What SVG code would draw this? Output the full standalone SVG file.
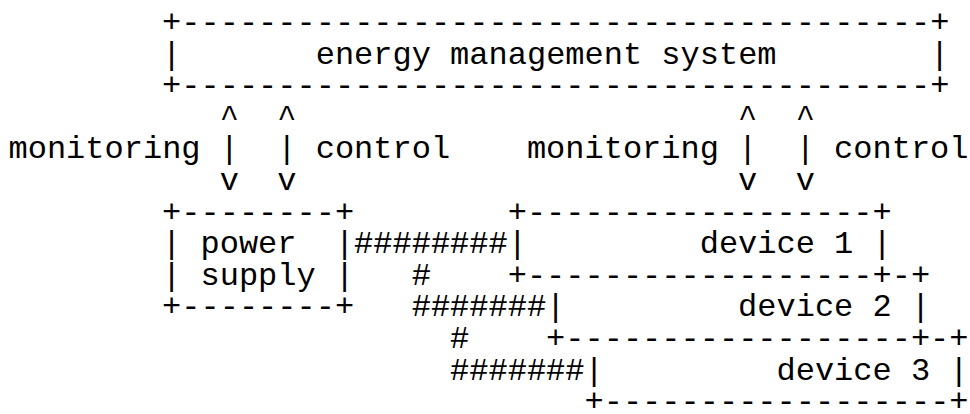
<svg xmlns="http://www.w3.org/2000/svg" width="970" height="414" viewBox="0 0 970 414">
<style>
text{font-family:"Liberation Mono","Courier New","DejaVu Sans Mono",monospace;font-size:32px;fill:#000;white-space:pre}
</style>
<rect width="970" height="414" fill="#fff"/>
<g id="ems">
<text x="162.1" y="32">+---------------------------------------+</text>
<text x="162.1" y="63.6">|</text>
<text x="315.7" y="63.6">energy management system</text>
<text x="930.1" y="63.6">|</text>
<text x="162.1" y="95.2">+---------------------------------------+</text>
</g>
<g id="power-supply">
<text x="162.1" y="221.6">+--------+</text>
<text x="162.1" y="253.2">|</text>
<text x="200.5" y="253.2">power</text>
<text x="334.9" y="253.2">|</text>
<text x="162.1" y="284.8">|</text>
<text x="200.5" y="284.8">supply</text>
<text x="334.9" y="284.8">|</text>
<text x="162.1" y="316.4">+--------+</text>
</g>
<g id="device1">
<text x="507.7" y="221.6">+------------------+</text>
<text x="507.7" y="253.2">|</text>
<text x="699.7" y="253.2">device 1</text>
<text x="872.5" y="253.2">|</text>
<text x="507.7" y="284.8">+------------------+</text>
</g>
<g id="device2">
<text x="891.7" y="284.8">-+</text>
<text x="546.1" y="316.4">|</text>
<text x="738.1" y="316.4">device 2</text>
<text x="910.9" y="316.4">|</text>
<text x="546.1" y="348">+------------------+</text>
</g>
<g id="device3">
<text x="930.1" y="348">-+</text>
<text x="584.5" y="379.6">|</text>
<text x="776.5" y="379.6">device 3</text>
<text x="949.3" y="379.6">|</text>
<text x="584.5" y="411.2">+------------------+</text>
</g>
<g id="connectors">
<text x="219.7" y="126.8">^</text>
<text x="277.3" y="126.8">^</text>
<text x="738.1" y="126.8">^</text>
<text x="795.7" y="126.8">^</text>
<text x="8.5" y="158.4">monitoring</text>
<text x="219.7" y="158.4">|</text>
<text x="277.3" y="158.4">|</text>
<text x="315.7" y="158.4">control</text>
<text x="526.9" y="158.4">monitoring</text>
<text x="738.1" y="158.4">|</text>
<text x="795.7" y="158.4">|</text>
<text x="834.1" y="158.4">control</text>
<text x="219.7" y="190">v</text>
<text x="277.3" y="190">v</text>
<text x="738.1" y="190">v</text>
<text x="795.7" y="190">v</text>
<text x="354.1" y="253.2">########</text>
<text x="411.7" y="284.8">#</text>
<text x="411.7" y="316.4">#######</text>
<text x="450.1" y="348">#</text>
<text x="450.1" y="379.6">#######</text>
</g>
</svg>
